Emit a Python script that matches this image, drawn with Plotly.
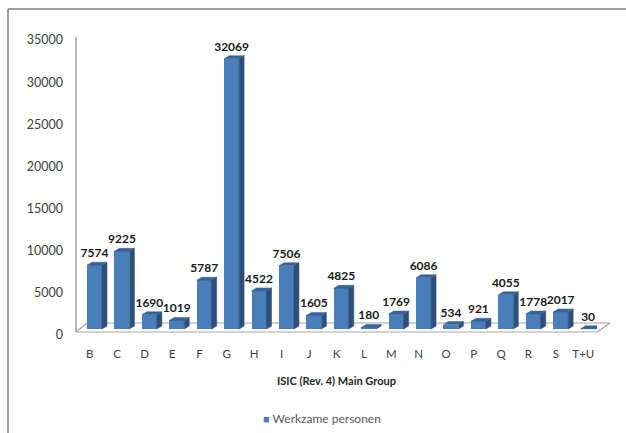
import plotly.graph_objects as go

categories = ["B", "C", "D", "E", "F", "G", "H", "I", "J", "K", "L", "M", "N", "O", "P", "Q", "R", "S", "T+U"]
values = [7574, 9225, 1690, 1019, 5787, 32069, 4522, 7506, 1605, 4825, 180, 1769, 6086, 534, 921, 4055, 1778, 2017, 30]
y_ticks = [0, 5000, 10000, 15000, 20000, 25000, 30000, 35000]
series_name = "Werkzame personen"
x_title = "ISIC (Rev. 4) Main Group"

W, H = 626, 433
L, R, T, B = 76, 597, 40, 335
FONT = "Lato"
Y_MAX = 35000
px_x = (R - L) / len(categories)
px_y = (B - T) / Y_MAX


def dx(p):
    return p / px_x


def dy(p):
    return p / px_y


def py(pixel):
    return (B - pixel) / (B - T)


def fx(pixel):
    return (pixel - L) / (R - L)


pos = list(range(len(categories)))
bar_w = dx(15)
shift = dx(4.8)
base = dy(6)
dep_x, dep_y = dx(5), dy(3)

FRONT, SIDE, TOP = "#4a7ebb", "#2c4f7c", "#386299"
sx, sy, tx, ty = [], [], [], []
for p, v in zip(pos, values):
    x1 = p + shift + bar_w / 2
    x0 = x1 - bar_w
    y0, y1 = base, base + v
    sx += [x1, x1 + dep_x, x1 + dep_x, x1, x1, None]
    sy += [y0, y0 + dep_y, y1 + dep_y, y1, y0, None]
    tx += [x0, x1, x1 + dep_x, x0 + dep_x, x0, None]
    ty += [y1, y1, y1 + dep_y, y1 + dep_y, y1, None]

fig = go.Figure()

fig.add_trace(go.Bar(
    x=[p + shift for p in pos], y=values, base=base, width=bar_w,
    name=series_name, showlegend=False, marker=dict(color=FRONT, line=dict(width=0))))
fig.add_trace(go.Scatter(x=sx, y=sy, mode="lines", fill="toself", fillcolor=SIDE,
                         line=dict(color=SIDE, width=0.5), showlegend=False, hoverinfo="skip"))
fig.add_trace(go.Scatter(x=tx, y=ty, mode="lines", fill="toself", fillcolor=TOP,
                         line=dict(color=TOP, width=0.5), showlegend=False, hoverinfo="skip"))
fig.add_trace(go.Scatter(
    x=[p + shift for p in pos], y=[v + dy(11) for v in values],
    mode="text", text=[str(v) for v in values], textposition="top center",
    textfont=dict(family=FONT, size=12, color="#1a1a1a", weight="bold"),
    showlegend=False, hoverinfo="skip", cliponaxis=False))


def gray_line(x0, y0, x1, y1, color="#a6a6a6", width=1.2):
    return dict(type="line", xref="paper", yref="paper", layer="below",
                x0=fx(x0), x1=fx(x1), y0=py(y0), y1=py(y1), line=dict(color=color, width=width))


fig.update_layout(
    width=W, height=H, autosize=False,
    margin=dict(l=L, r=W - R, t=T, b=H - B, pad=0),
    paper_bgcolor="white", plot_bgcolor="white",
    font=dict(family=FONT, size=11, color="#404040"),
    bargap=0,
    showlegend=False,
    xaxis=dict(range=[-0.5, 18.5], tickmode="array", tickvals=pos, ticktext=categories,
               showgrid=False, zeroline=False, showline=False, ticks="", ticklabelstandoff=10,
               tickfont=dict(family=FONT, size=11.5, color="#404040"),
               title=dict(text=x_title, standoff=18,
                          font=dict(family=FONT, size=11, color="#262626", weight="bold"))),
    yaxis=dict(range=[0, Y_MAX], tickmode="array", tickvals=y_ticks, ticktext=[str(t) for t in y_ticks],
               showgrid=False, zeroline=False, showline=False,
               ticks="", ticklabelstandoff=12,
               tickfont=dict(family=FONT, size=12.5, color="#404040")),
    annotations=[dict(
        xref="paper", yref="paper", x=fx(261), y=py(418),
        xanchor="left", yanchor="middle", showarrow=False,
        text=f"<span style='color:{FRONT};font-size:11px'>■</span> {series_name}",
        font=dict(family=FONT, size=12, color="#595959"))],
    shapes=[
        gray_line(76, 37, 76, 332, "#8c8c8c"),
        gray_line(76, 332, 597, 332),
        gray_line(597, 332, 610, 323),
        gray_line(610, 323, 87, 323),
        gray_line(87, 323, 76, 332),
        gray_line(8, 9, W, 9, "#808080", 1.5),
        gray_line(8, 9, 8, H, "#808080", 1.5),
    ],
)
fig.write_html("out.html", config={"displayModeBar": False},
               post_script="document.body.style.margin='0';")
